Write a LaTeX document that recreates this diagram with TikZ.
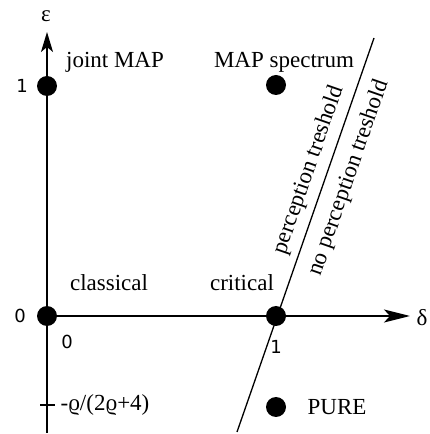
\documentclass[tikz,border=0pt]{standalone}
\usepackage{fontspec}
\setmainfont{Liberation Serif}
\newfontfamily\digitfont{DejaVu Sans}
\usetikzlibrary{arrows.meta}
\tikzset{
  lbl/.style={font=\fontsize{23}{27}\selectfont, inner sep=0pt},
  slant/.style={lbl, rotate=70.8},
  num/.style={font=\digitfont\fontsize{18}{22}\selectfont, inner sep=0pt},
  pt/.style={circle, fill=black, minimum size=20pt, inner sep=0pt},
  axis/.style={line width=1.8pt},
  thin/.style={line width=1.3pt}
}
\begin{document}
\begin{tikzpicture}[x=1pt,y=1pt]
\useasboundingbox (0,0) rectangle (430,434);
% coordinates
\coordinate (vb) at (47,1);
\coordinate (vt) at (47,402);
\coordinate (ht) at (410,118);
\coordinate (lb) at (237,2);
\coordinate (lt) at (374,396);
\coordinate (tl) at (40,29);
\coordinate (tr) at (55,29);
% lines
\draw[thin] (lb) -- (lt);
\draw[axis,-{Stealth[length=20pt,width=12pt,inset=5pt]}] (vb) -- (vt);
\node[pt] (o) at (47,118) {};
\draw[axis,-{Stealth[length=26pt,width=13pt,inset=6pt]}] (o.center) -- (ht);
\draw[thin] (tl) -- (tr);
% dots
\node[pt] (jm) at (47,348) {};
\node[pt] (ms) at (276,349) {};
\node[pt] (cr) at (276,118) {};
\node[pt] (pu) at (276,27) {};
% axis labels
\node[lbl] (eps) at (46,418) {ε};
\node[lbl] (del) at (422,116) {δ};
\node[num] (one) at (22,348) {1};
\node[num] (zl) at (20,118) {0};
\node[num] (zb) at (67,92) {0};
\node[num] (ob) at (276,87) {1};
% region labels
\node[lbl] (tjm) at (115,372) {joint MAP};
\node[lbl] (tms) at (284,372) {MAP spectrum};
\node[lbl] (tcl) at (109,151) {classical};
\node[lbl] (tcr) at (242,151) {critical};
\node[lbl] (tpu) at (337,27) {PURE};
\node[lbl] (trho) at (105,29) {-ϱ/(2ϱ+4)};
% rotated labels along the threshold line
\node[slant] (tpt) at (309,264) {perception treshold};
\node[slant] (tnp) at (349,256) {no perception treshold};
\end{tikzpicture}
\end{document}
